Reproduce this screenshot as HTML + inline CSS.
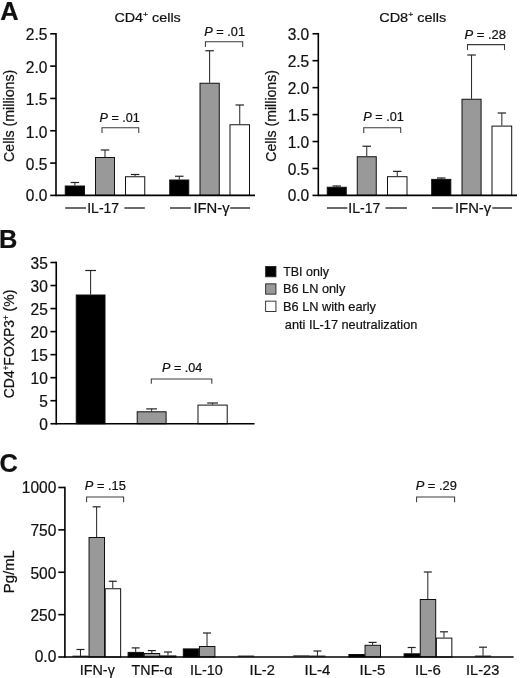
<!DOCTYPE html>
<html><head><meta charset="utf-8"><title>Figure</title>
<style>
html,body{margin:0;padding:0;background:#fff;}
svg{display:block;font-family:"Liberation Sans", sans-serif;fill:#111;will-change:transform;}
text{stroke:#111;stroke-width:0.22;}
</style></head>
<body>
<svg width="520" height="678" viewBox="0 0 520 678">
<rect x="0" y="0" width="520" height="678" fill="#ffffff"/>
<text x="0.30" y="20.00" font-size="25.4" font-weight="bold">A</text>
<text x="-0.90" y="247.50" font-size="25.4" font-weight="bold">B</text>
<text x="-0.50" y="472.30" font-size="25.4" font-weight="bold">C</text>
<line x1="56.00" y1="33.00" x2="56.00" y2="196.20" stroke="#000" stroke-width="1.6"/>
<line x1="50.20" y1="33.80" x2="56.00" y2="33.80" stroke="#000" stroke-width="1.6"/>
<text x="47.40" y="40.30" font-size="16.0" text-anchor="end" textLength="21.55" lengthAdjust="spacingAndGlyphs">2.5</text>
<line x1="50.20" y1="66.12" x2="56.00" y2="66.12" stroke="#000" stroke-width="1.6"/>
<text x="47.40" y="72.52" font-size="16.0" text-anchor="end" textLength="21.55" lengthAdjust="spacingAndGlyphs">2.0</text>
<line x1="50.20" y1="98.44" x2="56.00" y2="98.44" stroke="#000" stroke-width="1.6"/>
<text x="47.40" y="104.94" font-size="16.0" text-anchor="end" textLength="21.55" lengthAdjust="spacingAndGlyphs">1.5</text>
<line x1="50.20" y1="130.76" x2="56.00" y2="130.76" stroke="#000" stroke-width="1.6"/>
<text x="47.40" y="137.76" font-size="16.0" text-anchor="end" textLength="21.55" lengthAdjust="spacingAndGlyphs">1.0</text>
<line x1="50.20" y1="163.08" x2="56.00" y2="163.08" stroke="#000" stroke-width="1.6"/>
<text x="47.40" y="169.98" font-size="16.0" text-anchor="end" textLength="21.55" lengthAdjust="spacingAndGlyphs">0.5</text>
<line x1="50.20" y1="195.40" x2="56.00" y2="195.40" stroke="#000" stroke-width="1.6"/>
<text x="47.40" y="201.00" font-size="16.0" text-anchor="end" textLength="21.55" lengthAdjust="spacingAndGlyphs">0.0</text>
<line x1="74.88" y1="182.50" x2="74.88" y2="185.50" stroke="#222" stroke-width="1.0"/>
<line x1="70.62" y1="182.50" x2="79.12" y2="182.50" stroke="#222" stroke-width="1.2"/>
<rect x="65.25" y="186.00" width="19.25" height="9.40" fill="#000" stroke="#111" stroke-width="1.0"/>
<line x1="105.00" y1="150.00" x2="105.00" y2="157.00" stroke="#222" stroke-width="1.0"/>
<line x1="100.75" y1="150.00" x2="109.25" y2="150.00" stroke="#222" stroke-width="1.2"/>
<rect x="95.50" y="157.50" width="19.00" height="37.90" fill="#999999" stroke="#111" stroke-width="1.0"/>
<line x1="135.12" y1="174.50" x2="135.12" y2="176.25" stroke="#222" stroke-width="1.0"/>
<line x1="130.88" y1="174.50" x2="139.38" y2="174.50" stroke="#222" stroke-width="1.2"/>
<rect x="125.50" y="176.75" width="19.25" height="18.65" fill="#fff" stroke="#111" stroke-width="1.0"/>
<line x1="179.25" y1="176.25" x2="179.25" y2="179.50" stroke="#222" stroke-width="1.0"/>
<line x1="175.00" y1="176.25" x2="183.50" y2="176.25" stroke="#222" stroke-width="1.2"/>
<rect x="169.75" y="180.00" width="19.00" height="15.40" fill="#000" stroke="#111" stroke-width="1.0"/>
<line x1="209.62" y1="50.75" x2="209.62" y2="82.75" stroke="#222" stroke-width="1.0"/>
<line x1="205.38" y1="50.75" x2="213.88" y2="50.75" stroke="#222" stroke-width="1.2"/>
<rect x="200.00" y="83.25" width="19.25" height="112.15" fill="#999999" stroke="#111" stroke-width="1.0"/>
<line x1="239.75" y1="105.00" x2="239.75" y2="124.25" stroke="#222" stroke-width="1.0"/>
<line x1="235.50" y1="105.00" x2="244.00" y2="105.00" stroke="#222" stroke-width="1.2"/>
<rect x="230.00" y="124.75" width="19.50" height="70.65" fill="#fff" stroke="#111" stroke-width="1.0"/>
<line x1="56.00" y1="195.40" x2="255.00" y2="195.40" stroke="#000" stroke-width="1.6"/>
<polyline points="102.00,133.00 102.00,127.80 138.75,127.80 138.75,133.00" fill="none" stroke="#3a3a3a" stroke-width="1.05"/>
<text x="99.60" y="121.60" font-size="13.2" textLength="40.20" lengthAdjust="spacingAndGlyphs"><tspan font-style="italic">P</tspan> = .01</text>
<polyline points="205.40,47.10 205.40,41.80 242.70,41.80 242.70,47.10" fill="none" stroke="#3a3a3a" stroke-width="1.05"/>
<text x="204.20" y="36.00" font-size="13.2" textLength="40.80" lengthAdjust="spacingAndGlyphs"><tspan font-style="italic">P</tspan> = .01</text>
<text x="114.4" y="21.6" font-size="13.4" textLength="66.4" lengthAdjust="spacingAndGlyphs">CD4<tspan font-size="8" dy="-4.5">+</tspan><tspan dy="4.5"> cells</tspan></text>
<line x1="65.20" y1="208.00" x2="86.00" y2="208.00" stroke="#111" stroke-width="1.25"/>
<text x="87.20" y="213.40" font-size="14.8" textLength="32.00" lengthAdjust="spacingAndGlyphs">IL-17</text>
<line x1="124.40" y1="208.00" x2="144.80" y2="208.00" stroke="#111" stroke-width="1.25"/>
<line x1="170.00" y1="208.00" x2="190.80" y2="208.00" stroke="#111" stroke-width="1.25"/>
<text x="193.40" y="213.40" font-size="14.8" textLength="36.20" lengthAdjust="spacingAndGlyphs">IFN-γ</text>
<line x1="230.20" y1="208.00" x2="250.00" y2="208.00" stroke="#111" stroke-width="1.25"/>
<text x="14.00" y="161.90" font-size="14.8" textLength="92.20" lengthAdjust="spacingAndGlyphs" transform="rotate(-90 14.00 161.90)">Cells (millions)</text>
<line x1="318.30" y1="32.95" x2="318.30" y2="196.20" stroke="#000" stroke-width="1.6"/>
<line x1="312.50" y1="33.75" x2="318.30" y2="33.75" stroke="#000" stroke-width="1.6"/>
<text x="309.20" y="40.45" font-size="16.0" text-anchor="end" textLength="21.55" lengthAdjust="spacingAndGlyphs">3.0</text>
<line x1="312.50" y1="60.69" x2="318.30" y2="60.69" stroke="#000" stroke-width="1.6"/>
<text x="309.20" y="67.29" font-size="16.0" text-anchor="end" textLength="21.55" lengthAdjust="spacingAndGlyphs">2.5</text>
<line x1="312.50" y1="87.63" x2="318.30" y2="87.63" stroke="#000" stroke-width="1.6"/>
<text x="309.20" y="94.33" font-size="16.0" text-anchor="end" textLength="21.55" lengthAdjust="spacingAndGlyphs">2.0</text>
<line x1="312.50" y1="114.58" x2="318.30" y2="114.58" stroke="#000" stroke-width="1.6"/>
<text x="309.20" y="121.08" font-size="16.0" text-anchor="end" textLength="21.55" lengthAdjust="spacingAndGlyphs">1.5</text>
<line x1="312.50" y1="141.52" x2="318.30" y2="141.52" stroke="#000" stroke-width="1.6"/>
<text x="309.20" y="148.22" font-size="16.0" text-anchor="end" textLength="21.55" lengthAdjust="spacingAndGlyphs">1.0</text>
<line x1="312.50" y1="168.46" x2="318.30" y2="168.46" stroke="#000" stroke-width="1.6"/>
<text x="309.20" y="175.16" font-size="16.0" text-anchor="end" textLength="21.55" lengthAdjust="spacingAndGlyphs">0.5</text>
<line x1="312.50" y1="195.40" x2="318.30" y2="195.40" stroke="#000" stroke-width="1.6"/>
<text x="309.20" y="201.00" font-size="16.0" text-anchor="end" textLength="21.55" lengthAdjust="spacingAndGlyphs">0.0</text>
<line x1="336.75" y1="186.00" x2="336.75" y2="186.75" stroke="#222" stroke-width="1.0"/>
<line x1="332.50" y1="186.00" x2="341.00" y2="186.00" stroke="#222" stroke-width="1.2"/>
<rect x="327.25" y="187.25" width="19.00" height="8.15" fill="#000" stroke="#111" stroke-width="1.0"/>
<line x1="366.75" y1="146.25" x2="366.75" y2="156.25" stroke="#222" stroke-width="1.0"/>
<line x1="362.50" y1="146.25" x2="371.00" y2="146.25" stroke="#222" stroke-width="1.2"/>
<rect x="357.25" y="156.75" width="19.00" height="38.65" fill="#999999" stroke="#111" stroke-width="1.0"/>
<line x1="397.25" y1="171.40" x2="397.25" y2="176.20" stroke="#222" stroke-width="1.0"/>
<line x1="393.00" y1="171.40" x2="401.50" y2="171.40" stroke="#222" stroke-width="1.2"/>
<rect x="387.50" y="176.70" width="19.50" height="18.70" fill="#fff" stroke="#111" stroke-width="1.0"/>
<line x1="441.25" y1="178.00" x2="441.25" y2="178.90" stroke="#222" stroke-width="1.0"/>
<line x1="437.00" y1="178.00" x2="445.50" y2="178.00" stroke="#222" stroke-width="1.2"/>
<rect x="431.70" y="179.40" width="19.10" height="16.00" fill="#000" stroke="#111" stroke-width="1.0"/>
<line x1="471.55" y1="55.00" x2="471.55" y2="98.75" stroke="#222" stroke-width="1.0"/>
<line x1="467.30" y1="55.00" x2="475.80" y2="55.00" stroke="#222" stroke-width="1.2"/>
<rect x="462.00" y="99.25" width="19.10" height="96.15" fill="#999999" stroke="#111" stroke-width="1.0"/>
<line x1="501.85" y1="113.00" x2="501.85" y2="125.60" stroke="#222" stroke-width="1.0"/>
<line x1="497.60" y1="113.00" x2="506.10" y2="113.00" stroke="#222" stroke-width="1.2"/>
<rect x="492.00" y="126.10" width="19.70" height="69.30" fill="#fff" stroke="#111" stroke-width="1.0"/>
<line x1="318.30" y1="195.40" x2="517.00" y2="195.40" stroke="#000" stroke-width="1.6"/>
<polyline points="363.75,133.00 363.75,127.80 400.70,127.80 400.70,133.00" fill="none" stroke="#3a3a3a" stroke-width="1.05"/>
<text x="363.30" y="121.20" font-size="13.2" textLength="40.60" lengthAdjust="spacingAndGlyphs"><tspan font-style="italic">P</tspan> = .01</text>
<polyline points="467.50,49.90 467.50,44.60 504.50,44.60 504.50,49.90" fill="none" stroke="#3a3a3a" stroke-width="1.05"/>
<text x="464.50" y="38.75" font-size="13.2" textLength="41.50" lengthAdjust="spacingAndGlyphs"><tspan font-style="italic">P</tspan> = .28</text>
<text x="379.2" y="21.6" font-size="13.4" textLength="67" lengthAdjust="spacingAndGlyphs">CD8<tspan font-size="8" dy="-4.5">+</tspan><tspan dy="4.5"> cells</tspan></text>
<line x1="327.00" y1="208.00" x2="347.30" y2="208.00" stroke="#111" stroke-width="1.25"/>
<text x="348.30" y="213.40" font-size="14.8" textLength="32.00" lengthAdjust="spacingAndGlyphs">IL-17</text>
<line x1="385.50" y1="208.00" x2="407.00" y2="208.00" stroke="#111" stroke-width="1.25"/>
<line x1="432.00" y1="208.00" x2="452.80" y2="208.00" stroke="#111" stroke-width="1.25"/>
<text x="455.00" y="213.40" font-size="14.8" textLength="36.20" lengthAdjust="spacingAndGlyphs">IFN-γ</text>
<line x1="492.30" y1="208.00" x2="512.00" y2="208.00" stroke="#111" stroke-width="1.25"/>
<text x="275.60" y="161.80" font-size="14.6" textLength="91.80" lengthAdjust="spacingAndGlyphs" transform="rotate(-90 275.60 161.80)">Cells (millions)</text>
<line x1="56.25" y1="261.70" x2="56.25" y2="424.55" stroke="#000" stroke-width="1.6"/>
<line x1="50.45" y1="262.50" x2="56.25" y2="262.50" stroke="#000" stroke-width="1.6"/>
<text x="47.80" y="268.50" font-size="16.0" text-anchor="end" textLength="17.24" lengthAdjust="spacingAndGlyphs">35</text>
<line x1="50.45" y1="285.54" x2="56.25" y2="285.54" stroke="#000" stroke-width="1.6"/>
<text x="47.80" y="291.54" font-size="16.0" text-anchor="end" textLength="17.24" lengthAdjust="spacingAndGlyphs">30</text>
<line x1="50.45" y1="308.57" x2="56.25" y2="308.57" stroke="#000" stroke-width="1.6"/>
<text x="47.80" y="314.57" font-size="16.0" text-anchor="end" textLength="17.24" lengthAdjust="spacingAndGlyphs">25</text>
<line x1="50.45" y1="331.61" x2="56.25" y2="331.61" stroke="#000" stroke-width="1.6"/>
<text x="47.80" y="337.61" font-size="16.0" text-anchor="end" textLength="17.24" lengthAdjust="spacingAndGlyphs">20</text>
<line x1="50.45" y1="354.64" x2="56.25" y2="354.64" stroke="#000" stroke-width="1.6"/>
<text x="47.80" y="360.64" font-size="16.0" text-anchor="end" textLength="17.24" lengthAdjust="spacingAndGlyphs">15</text>
<line x1="50.45" y1="377.68" x2="56.25" y2="377.68" stroke="#000" stroke-width="1.6"/>
<text x="47.80" y="383.68" font-size="16.0" text-anchor="end" textLength="17.24" lengthAdjust="spacingAndGlyphs">10</text>
<line x1="50.45" y1="400.71" x2="56.25" y2="400.71" stroke="#000" stroke-width="1.6"/>
<text x="47.80" y="406.71" font-size="16.0" text-anchor="end" textLength="8.62" lengthAdjust="spacingAndGlyphs">5</text>
<line x1="50.45" y1="423.75" x2="56.25" y2="423.75" stroke="#000" stroke-width="1.6"/>
<text x="47.80" y="429.75" font-size="16.0" text-anchor="end" textLength="8.62" lengthAdjust="spacingAndGlyphs">0</text>
<line x1="90.62" y1="270.50" x2="90.62" y2="294.50" stroke="#222" stroke-width="1.0"/>
<line x1="85.22" y1="270.50" x2="96.03" y2="270.50" stroke="#222" stroke-width="1.2"/>
<rect x="76.25" y="295.00" width="28.75" height="128.75" fill="#000" stroke="#111" stroke-width="1.0"/>
<line x1="151.65" y1="408.90" x2="151.65" y2="411.30" stroke="#222" stroke-width="1.0"/>
<line x1="146.25" y1="408.90" x2="157.05" y2="408.90" stroke="#222" stroke-width="1.2"/>
<rect x="137.20" y="411.80" width="28.90" height="11.95" fill="#999999" stroke="#111" stroke-width="1.0"/>
<line x1="212.60" y1="403.00" x2="212.60" y2="404.60" stroke="#222" stroke-width="1.0"/>
<line x1="207.20" y1="403.00" x2="218.00" y2="403.00" stroke="#222" stroke-width="1.2"/>
<rect x="198.00" y="405.10" width="29.20" height="18.65" fill="#fff" stroke="#111" stroke-width="1.0"/>
<line x1="56.25" y1="423.75" x2="254.60" y2="423.75" stroke="#000" stroke-width="1.6"/>
<polyline points="151.30,383.80 151.30,378.90 211.80,378.90 211.80,383.80" fill="none" stroke="#3a3a3a" stroke-width="1.05"/>
<text x="162.00" y="372.00" font-size="13.2" textLength="40.40" lengthAdjust="spacingAndGlyphs"><tspan font-style="italic">P</tspan> = .04</text>
<text x="14.5" y="398.2" font-size="14.8" textLength="108.5" lengthAdjust="spacingAndGlyphs" transform="rotate(-90 14.5 398.2)">CD4<tspan font-size="8.5" dy="-5">+</tspan><tspan dy="5">FOXP3</tspan><tspan font-size="8.5" dy="-5">+</tspan><tspan dy="5"> (%)</tspan></text>
<rect x="265.65" y="266.50" width="10.3" height="10.3" fill="#000" stroke="#222" stroke-width="0.9"/>
<rect x="265.65" y="283.85" width="10.3" height="10.3" fill="#999999" stroke="#222" stroke-width="0.9"/>
<rect x="265.65" y="301.15" width="10.3" height="10.3" fill="#fff" stroke="#222" stroke-width="0.9"/>
<text x="283.20" y="275.80" font-size="13.3" textLength="45.70" lengthAdjust="spacingAndGlyphs">TBI only</text>
<text x="283.00" y="293.20" font-size="13.3" textLength="62.30" lengthAdjust="spacingAndGlyphs">B6 LN only</text>
<text x="283.00" y="311.00" font-size="13.3" textLength="93.00" lengthAdjust="spacingAndGlyphs">B6 LN with early</text>
<text x="284.80" y="329.00" font-size="13.3" textLength="132.60" lengthAdjust="spacingAndGlyphs">anti IL-17 neutralization</text>
<line x1="64.90" y1="486.70" x2="64.90" y2="657.80" stroke="#000" stroke-width="1.6"/>
<line x1="58.30" y1="487.50" x2="64.90" y2="487.50" stroke="#000" stroke-width="1.6"/>
<text x="56.30" y="493.05" font-size="16.0" text-anchor="end" textLength="34.48" lengthAdjust="spacingAndGlyphs">1000</text>
<line x1="58.30" y1="529.88" x2="64.90" y2="529.88" stroke="#000" stroke-width="1.6"/>
<text x="56.30" y="535.98" font-size="16.0" text-anchor="end" textLength="25.86" lengthAdjust="spacingAndGlyphs">750</text>
<line x1="58.30" y1="572.25" x2="64.90" y2="572.25" stroke="#000" stroke-width="1.6"/>
<text x="56.30" y="578.60" font-size="16.0" text-anchor="end" textLength="25.86" lengthAdjust="spacingAndGlyphs">500</text>
<line x1="58.30" y1="614.62" x2="64.90" y2="614.62" stroke="#000" stroke-width="1.6"/>
<text x="56.30" y="621.17" font-size="16.0" text-anchor="end" textLength="25.86" lengthAdjust="spacingAndGlyphs">250</text>
<line x1="58.30" y1="657.00" x2="64.90" y2="657.00" stroke="#000" stroke-width="1.6"/>
<text x="56.30" y="662.30" font-size="16.0" text-anchor="end" textLength="21.55" lengthAdjust="spacingAndGlyphs">0.0</text>
<line x1="80.48" y1="649.50" x2="80.48" y2="655.90" stroke="#222" stroke-width="1.0"/>
<line x1="76.48" y1="649.50" x2="84.48" y2="649.50" stroke="#222" stroke-width="1.2"/>
<line x1="72.40" y1="656.20" x2="88.55" y2="656.20" stroke="#111" stroke-width="1.0"/>
<line x1="96.63" y1="506.80" x2="96.63" y2="537.00" stroke="#222" stroke-width="1.0"/>
<line x1="92.63" y1="506.80" x2="100.63" y2="506.80" stroke="#222" stroke-width="1.2"/>
<rect x="89.05" y="537.50" width="15.45" height="119.50" fill="#999999" stroke="#111" stroke-width="1.0"/>
<line x1="112.78" y1="581.25" x2="112.78" y2="588.25" stroke="#222" stroke-width="1.0"/>
<line x1="108.78" y1="581.25" x2="116.78" y2="581.25" stroke="#222" stroke-width="1.2"/>
<rect x="105.20" y="588.75" width="15.45" height="68.25" fill="#fff" stroke="#111" stroke-width="1.0"/>
<text x="79.80" y="674.70" font-size="14.6" textLength="35.00" lengthAdjust="spacingAndGlyphs">IFN-γ</text>
<line x1="135.68" y1="647.90" x2="135.68" y2="651.90" stroke="#222" stroke-width="1.0"/>
<line x1="131.68" y1="647.90" x2="139.68" y2="647.90" stroke="#222" stroke-width="1.2"/>
<rect x="128.10" y="652.40" width="15.45" height="4.60" fill="#000" stroke="#111" stroke-width="1.0"/>
<line x1="151.82" y1="650.60" x2="151.82" y2="653.00" stroke="#222" stroke-width="1.0"/>
<line x1="147.82" y1="650.60" x2="155.82" y2="650.60" stroke="#222" stroke-width="1.2"/>
<rect x="144.25" y="653.50" width="15.45" height="3.50" fill="#999999" stroke="#111" stroke-width="1.0"/>
<line x1="167.98" y1="652.00" x2="167.98" y2="655.40" stroke="#222" stroke-width="1.0"/>
<line x1="163.98" y1="652.00" x2="171.98" y2="652.00" stroke="#222" stroke-width="1.2"/>
<rect x="160.40" y="655.90" width="15.45" height="1.10" fill="#fff" stroke="#111" stroke-width="1.0"/>
<text x="131.60" y="674.70" font-size="14.6" textLength="40.80" lengthAdjust="spacingAndGlyphs">TNF-α</text>
<rect x="183.30" y="648.90" width="15.45" height="8.10" fill="#000" stroke="#111" stroke-width="1.0"/>
<line x1="207.03" y1="633.00" x2="207.03" y2="646.00" stroke="#222" stroke-width="1.0"/>
<line x1="203.03" y1="633.00" x2="211.03" y2="633.00" stroke="#222" stroke-width="1.2"/>
<rect x="199.45" y="646.50" width="15.45" height="10.50" fill="#999999" stroke="#111" stroke-width="1.0"/>
<text x="189.90" y="674.70" font-size="14.6" textLength="32.80" lengthAdjust="spacingAndGlyphs">IL-10</text>
<line x1="238.00" y1="656.10" x2="254.15" y2="656.10" stroke="#111" stroke-width="1.0"/>
<text x="249.60" y="674.70" font-size="14.6" textLength="25.20" lengthAdjust="spacingAndGlyphs">IL-2</text>
<line x1="293.20" y1="655.90" x2="309.35" y2="655.90" stroke="#111" stroke-width="1.0"/>
<line x1="317.43" y1="651.00" x2="317.43" y2="655.80" stroke="#222" stroke-width="1.0"/>
<line x1="313.43" y1="651.00" x2="321.43" y2="651.00" stroke="#222" stroke-width="1.2"/>
<line x1="309.35" y1="656.10" x2="325.50" y2="656.10" stroke="#111" stroke-width="1.0"/>
<text x="304.60" y="674.70" font-size="14.6" textLength="25.80" lengthAdjust="spacingAndGlyphs">IL-4</text>
<rect x="348.90" y="654.50" width="15.45" height="2.50" fill="#000" stroke="#111" stroke-width="1.0"/>
<line x1="372.62" y1="642.40" x2="372.62" y2="644.80" stroke="#222" stroke-width="1.0"/>
<line x1="368.62" y1="642.40" x2="376.62" y2="642.40" stroke="#222" stroke-width="1.2"/>
<rect x="365.05" y="645.30" width="15.45" height="11.70" fill="#999999" stroke="#111" stroke-width="1.0"/>
<text x="359.60" y="674.70" font-size="14.6" textLength="25.60" lengthAdjust="spacingAndGlyphs">IL-5</text>
<line x1="411.68" y1="647.50" x2="411.68" y2="653.30" stroke="#222" stroke-width="1.0"/>
<line x1="407.68" y1="647.50" x2="415.68" y2="647.50" stroke="#222" stroke-width="1.2"/>
<rect x="404.10" y="653.80" width="15.45" height="3.20" fill="#000" stroke="#111" stroke-width="1.0"/>
<line x1="427.82" y1="572.00" x2="427.82" y2="599.00" stroke="#222" stroke-width="1.0"/>
<line x1="423.82" y1="572.00" x2="431.82" y2="572.00" stroke="#222" stroke-width="1.2"/>
<rect x="420.25" y="599.50" width="15.45" height="57.50" fill="#999999" stroke="#111" stroke-width="1.0"/>
<line x1="443.98" y1="631.80" x2="443.98" y2="637.60" stroke="#222" stroke-width="1.0"/>
<line x1="439.98" y1="631.80" x2="447.98" y2="631.80" stroke="#222" stroke-width="1.2"/>
<rect x="436.40" y="638.10" width="15.45" height="18.90" fill="#fff" stroke="#111" stroke-width="1.0"/>
<text x="415.10" y="674.70" font-size="14.6" textLength="25.80" lengthAdjust="spacingAndGlyphs">IL-6</text>
<line x1="483.03" y1="647.20" x2="483.03" y2="655.80" stroke="#222" stroke-width="1.0"/>
<line x1="479.03" y1="647.20" x2="487.03" y2="647.20" stroke="#222" stroke-width="1.2"/>
<line x1="474.95" y1="656.10" x2="491.10" y2="656.10" stroke="#111" stroke-width="1.0"/>
<text x="466.00" y="674.70" font-size="14.6" textLength="33.30" lengthAdjust="spacingAndGlyphs">IL-23</text>
<line x1="64.90" y1="657.00" x2="513.60" y2="657.00" stroke="#000" stroke-width="1.6"/>
<polyline points="86.60,502.20 86.60,497.00 123.60,497.00 123.60,502.20" fill="none" stroke="#3a3a3a" stroke-width="1.05"/>
<text x="84.80" y="490.00" font-size="13.2" textLength="41.00" lengthAdjust="spacingAndGlyphs"><tspan font-style="italic">P</tspan> = .15</text>
<polyline points="416.60,502.20 416.60,497.00 454.60,497.00 454.60,502.20" fill="none" stroke="#3a3a3a" stroke-width="1.05"/>
<text x="415.70" y="490.00" font-size="13.2" textLength="41.20" lengthAdjust="spacingAndGlyphs"><tspan font-style="italic">P</tspan> = .29</text>
<text x="14.00" y="593.20" font-size="14.0" textLength="43.00" lengthAdjust="spacingAndGlyphs" transform="rotate(-90 14.00 593.20)">Pg/mL</text>
</svg>
</body></html>
